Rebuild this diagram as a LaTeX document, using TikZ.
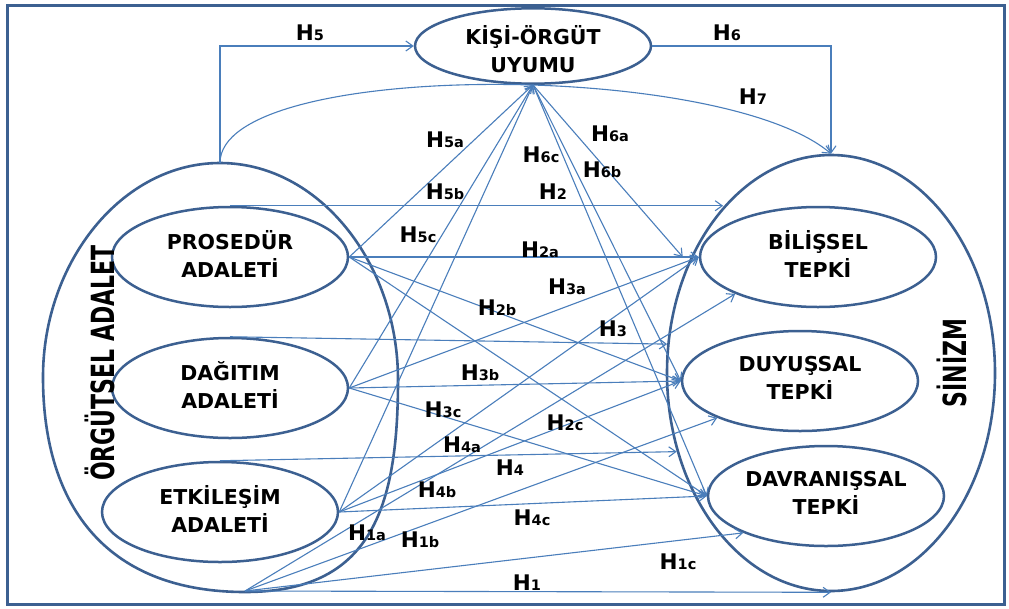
\documentclass[tikz,border=0pt]{standalone}
\usepackage{fontspec}
\usepackage{graphicx}
\setmainfont{DejaVu Sans}[BoldFont={DejaVu Sans Bold}]
\usetikzlibrary{shapes.geometric,arrows.meta,calc}
\definecolor{ol}{RGB}{60,96,145}
\definecolor{cn}{RGB}{74,126,187}
\newcommand{\hyplab}[1]{H{\fontsize{14.5}{15}\selectfont #1}}
\newcommand{\dnstrut}{\rule[-6pt]{0pt}{6pt}}
\newcommand{\upstrut}{\rule{0pt}{25pt}}
\begin{document}
\begin{tikzpicture}[x=1pt,y=-1pt,
  inner/.style={ellipse, draw=ol, line width=2.5pt, minimum width=236pt, minimum height=100pt, inner sep=0pt, align=center, font=\bfseries\fontsize{20.5}{28}\selectfont},
  bigell/.style={draw=ol, line width=2.6pt},
  conn/.style={draw=cn, line width=1.1pt, -{Straight Barb[length=7pt,width=10pt]}},
  hlab/.style={font=\bfseries\fontsize{21.5}{22}\selectfont, inner sep=1pt},
  sidelab/.style={rotate=90, inner sep=0pt, font=\bfseries\fontsize{22}{22}\selectfont},
]
\useasboundingbox (0,0) rectangle (1009,608);
\fill[white] (0,0) rectangle (1009,608);
\draw[ol, line width=3pt] (7,5) rectangle (1004,604);

% big containers
\node[ellipse, bigell, minimum width=328pt, minimum height=436pt, inner sep=0pt] (sin) at (831,373) {};
\draw[bigell] (220,163) .. controls (318,163) and (398,262) .. (398,380)
  .. controls (398,510) and (370,592) .. (245,592)
  .. controls (110,592) and (43,510) .. (43,377)
  .. controls (43,262) and (122,163) .. (220,163) -- cycle;
\coordinate (oaTop) at (220,163);
\coordinate (oaBot) at (245,591);

% inner nodes
\node[inner, minimum height=74pt] (kis) at (533,46) {\upstrut KİŞİ-ÖRGÜT\\UYUMU};
\node[inner] (pro) at (230,257) {PROSEDÜR\\ADALETİ\dnstrut};
\node[inner] (dag) at (230,388) {DAĞITIM\\ADALETİ\dnstrut};
\node[inner] (etk) at (220,512) {ETKİLEŞİM\\ADALETİ\dnstrut};
\node[inner] (bil) at (818,257) {BİLİŞSEL\\TEPKİ\dnstrut};
\node[inner] (duy) at (800,381) {DUYUŞSAL\\TEPKİ\dnstrut};
\node[inner] (dav) at (826,496) {DAVRANIŞSAL\\TEPKİ\dnstrut};

\node[sidelab] (oaLab) at (100,363) {\scalebox{1}[1.45]{ÖRGÜTSEL ADALET}};
\node[sidelab] (sinLab) at (952,363) {\scalebox{1}[1.45]{SİNİZM}};

% connectors
\draw[conn] (oaTop) |- (kis.west);
\draw[conn] (kis.east) -| (sin.north);
\draw[conn] (oaTop) .. controls (220,60) and (720,60) .. (sin.north);

\draw[conn] (pro.east) -- (kis.south);
\draw[conn] (dag.east) -- (kis.south);
\draw[conn] (etk.east) -- (kis.south);

\draw[conn] (kis.south) -- ($(bil.west)+(-16,0)$);
\draw[conn] (kis.south) -- (duy.west);
\draw[conn] (kis.south) -- (dav.west);

\draw[conn] (pro.north) -- (pro.north -| sin.123);
\draw[conn] (dag.north) -- (sin.170);
\draw[conn] (etk.north) -- (sin.207);
\draw[conn] (oaBot) -- (sin.south);

\draw[conn] (pro.east) -- (bil.west);
\draw[conn] (pro.east) -- (duy.west);
\draw[conn] (pro.east) -- (dav.west);
\draw[conn] (dag.east) -- (bil.west);
\draw[conn] (dag.east) -- (duy.west);
\draw[conn] (dag.east) -- (dav.west);
\draw[conn] (etk.east) -- (bil.west);
\draw[conn] (etk.east) -- (duy.west);
\draw[conn] (etk.east) -- (dav.west);

\draw[conn] (oaBot) -- (bil.204);
\draw[conn] (oaBot) -- (duy.204);
\draw[conn] (oaBot) -- (dav.204);

% labels
\node[hlab] (l5) at (310,33) {\hyplab{5}};
\node[hlab] (l6) at (727,33) {\hyplab{6}};
\node[hlab] (l7) at (753,97) {\hyplab{7}};
\node[hlab] (l5a) at (445,140) {\hyplab{5a}};
\node[hlab] (l6c) at (541,155) {\hyplab{6c}};
\node[hlab] (l6a) at (610,134) {\hyplab{6a}};
\node[hlab] (l6b) at (602,170) {\hyplab{6b}};
\node[hlab] (l5b) at (445,192) {\hyplab{5b}};
\node[hlab] (l2) at (553,192) {\hyplab{2}};
\node[hlab] (l5c) at (418,235) {\hyplab{5c}};
\node[hlab] (l2a) at (540,250) {\hyplab{2a}};
\node[hlab] (l3a) at (567,287) {\hyplab{3a}};
\node[hlab] (l2b) at (497,308) {\hyplab{2b}};
\node[hlab] (l3) at (613,329) {\hyplab{3}};
\node[hlab] (l3b) at (480,373) {\hyplab{3b}};
\node[hlab] (l3c) at (443,410) {\hyplab{3c}};
\node[hlab] (l2c) at (565,423) {\hyplab{2c}};
\node[hlab] (l4a) at (462,445) {\hyplab{4a}};
\node[hlab] (l4) at (510,468) {\hyplab{4}};
\node[hlab] (l4b) at (437,490) {\hyplab{4b}};
\node[hlab] (l4c) at (532,518) {\hyplab{4c}};
\node[hlab] (l1a) at (367,533) {\hyplab{1a}};
\node[hlab] (l1b) at (420,540) {\hyplab{1b}};
\node[hlab] (l1c) at (678,562) {\hyplab{1c}};
\node[hlab] (l1) at (527,583) {\hyplab{1}};
\end{tikzpicture}
\end{document}
